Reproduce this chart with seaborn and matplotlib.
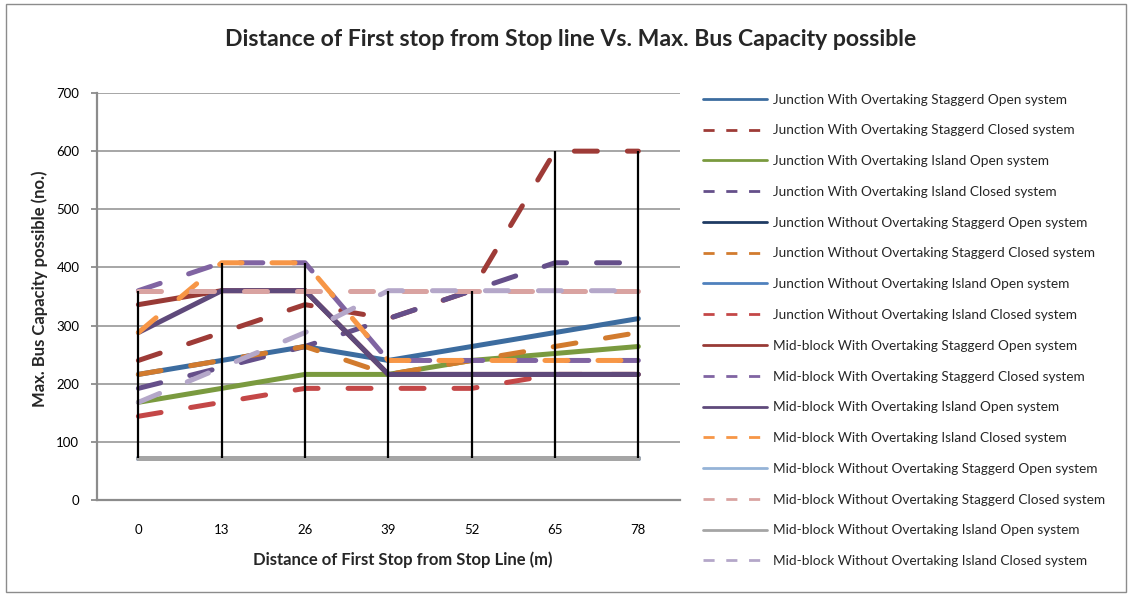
import matplotlib
matplotlib.use("Agg")
import matplotlib.pyplot as plt
import seaborn as sns
import pandas as pd
from matplotlib.lines import Line2D
from matplotlib.patches import Rectangle

# ---------------- data ----------------
distances = [0, 13, 26, 39, 52, 65, 78]

series_names = [
    "Junction With Overtaking Staggerd Open system",
    "Junction With Overtaking Staggerd Closed system",
    "Junction With Overtaking Island Open system",
    "Junction With Overtaking Island Closed system",
    "Junction Without Overtaking Staggerd Open system",
    "Junction Without Overtaking Staggerd Closed system",
    "Junction Without Overtaking Island Open system",
    "Junction Without Overtaking Island Closed system",
    "Mid-block With Overtaking Staggerd Open system",
    "Mid-block With Overtaking Staggerd Closed system",
    "Mid-block With Overtaking Island Open system",
    "Mid-block With Overtaking Island Closed system",
    "Mid-block Without Overtaking Staggerd Open system",
    "Mid-block Without Overtaking Staggerd Closed system",
    "Mid-block Without Overtaking Island Open system",
    "Mid-block Without Overtaking Island Closed system",
]

jn_with_stag_open = [216, 240, 264, 240, 264, 288, 312]
jn_with_stag_closed = [240, 288, 336, 312, 360, 600, 600]
jn_with_isl_open = [168, 192, 216, 216, 240, 252, 264]
jn_with_isl_closed = [192, 228, 264, 312, 360, 408, 408]
jn_wo_stag_open = [72, 72, 72, 72, 72, 72, 72]
jn_wo_stag_closed = [216, 240, 264, 216, 240, 264, 288]
jn_wo_isl_open = [72, 72, 72, 72, 72, 72, 72]
jn_wo_isl_closed = [144, 168, 192, 192, 192, 216, 216]
mb_with_stag_open = [336, 360, 360, 216, 216, 216, 216]
mb_with_stag_closed = [360, 408, 408, 240, 240, 240, 240]
mb_with_isl_open = [288, 360, 360, 216, 216, 216, 216]
mb_with_isl_closed = [288, 408, 408, 240, 240, 240, 240]
mb_wo_stag_open = [72, 72, 72, 72, 72, 72, 72]
mb_wo_stag_closed = [360, 360, 360, 360, 360, 360, 360]
mb_wo_isl_open = [72, 72, 72, 72, 72, 72, 72]
mb_wo_isl_closed = [168, 228, 288, 360, 360, 360, 360]

series_values = [
    jn_with_stag_open, jn_with_stag_closed, jn_with_isl_open, jn_with_isl_closed,
    jn_wo_stag_open, jn_wo_stag_closed, jn_wo_isl_open, jn_wo_isl_closed,
    mb_with_stag_open, mb_with_stag_closed, mb_with_isl_open, mb_with_isl_closed,
    mb_wo_stag_open, mb_wo_stag_closed, mb_wo_isl_open, mb_wo_isl_closed,
]

colors = [
    "#3C6C9F", "#9E3B37", "#7A9A3F", "#654F8A",
    "#1F3B63", "#D27B2E", "#4F81BD", "#C44747",
    "#983A36", "#8064A2", "#5F4A7B", "#F79646",
    "#95B3D7", "#D9A3A1", "#A5A5A5", "#B4A7C9",
]
is_dashed = [False, True] * 8

title = "Distance of First stop from Stop line Vs. Max. Bus Capacity possible"
xlabel = "Distance of First Stop from Stop Line (m)"
ylabel = "Max. Bus Capacity possible (no.)"
y_ticks = [0, 100, 200, 300, 400, 500, 600, 700]

# ---------------- build table ----------------
rows = []
for name, vals in zip(series_names, series_values):
    for d, v in zip(distances, vals):
        rows.append({"Series": name, "Distance": d, "Capacity": v})
df = pd.DataFrame(rows)

palette = dict(zip(series_names, colors))
dash_main = {n: ((4.6, 6.0) if d else "") for n, d in zip(series_names, is_dashed)}

# ---------------- plot ----------------
sns.set_style("white")
plt.rcParams["font.family"] = ["Lato", "DejaVu Sans"]

W, H = 1132, 596
fig = plt.figure(figsize=(W / 100, H / 100), dpi=100)
ax_left, ax_right, ax_top, ax_bottom = 96.7, 680, 93, 500
ax = fig.add_axes([ax_left / W, 1 - ax_bottom / H,
                   (ax_right - ax_left) / W, (ax_bottom - ax_top) / H])

sns.lineplot(data=df, x="Distance", y="Capacity", hue="Series", style="Series",
             hue_order=series_names, style_order=series_names,
             palette=palette, dashes=dash_main, linewidth=3.6,
             estimator=None, sort=False, legend=False, ax=ax,
             dash_capstyle="round", solid_capstyle="round", zorder=3)

# high-low lines (from min to max of all series at each category)
hi = df.groupby("Distance")["Capacity"].max()
lo = df.groupby("Distance")["Capacity"].min()
ax.vlines(hi.index, lo.values, hi.values, colors="black", linewidth=1.6, zorder=5)

ax.set_xlim(-6.5, 84.5)
ax.set_ylim(0, 700)
ax.set_yticks(y_ticks)
ax.set_xticks(distances)
ax.set_xticklabels([str(d) for d in distances])

ax.yaxis.grid(True, color="#A6A6A6", linewidth=1.4)
ax.xaxis.grid(False)
ax.set_axisbelow(True)
for s in ["top", "right"]:
    ax.spines[s].set_visible(False)
for s in ["left", "bottom"]:
    ax.spines[s].set_color("#8C8C8C")
    ax.spines[s].set_linewidth(1.6)

ax.tick_params(axis="y", direction="out", length=4.5, width=1.3, color="#8C8C8C",
               labelsize=9.5, pad=8, labelcolor="black", left=True)
ax.tick_params(axis="x", length=0, labelsize=9.5, pad=17, labelcolor="black")

ax.set_xlabel(xlabel, fontsize=12, fontweight="bold")
ax.xaxis.set_label_coords(0.525, -0.127)
ax.set_ylabel(ylabel, fontsize=12, fontweight="bold")
ax.yaxis.set_label_coords(-0.083, 0.518)

fig.text(571 / W, 1 - 40 / H, title, fontsize=16.6, fontweight="bold",
         ha="center", va="center")

# legend
handles = []
for n, c, d in zip(series_names, colors, is_dashed):
    h = Line2D([0], [0], color=c, linewidth=2.0)
    if d:
        h.set_dashes((4.0, 4.2))
    handles.append(h)
fig.legend(handles, series_names, loc="upper left",
           bbox_to_anchor=(703 / W, 1 - 93.5 / H), frameon=False,
           fontsize=9.8, handlelength=4.7, handletextpad=0.45,
           labelspacing=1.38, borderaxespad=0, borderpad=0)

# chart area border
fig.patches.append(Rectangle((6 / W, 4 / H), (1126 - 6) / W, (592 - 4) / H,
                             transform=fig.transFigure, fill=False,
                             edgecolor="#8C8C8C", linewidth=1.0))

fig.savefig("out.png", dpi=100)
